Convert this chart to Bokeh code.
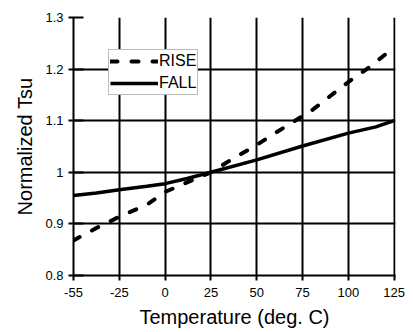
import numpy as np
from bokeh.plotting import figure
from bokeh.models import FixedTicker, Range1d, Legend, LegendItem
from bokeh.embed import file_html
from bokeh.resources import INLINE

# Axis ticks (the -55 tick sits one regular step left of -25)
tick_temps = [-55, -25, 0, 25, 50, 75, 100, 125]
tick_labels = ["-55", "-25", "0", "25", "50", "75", "100", "125"]
tick_pos = [-50, -25, 0, 25, 50, 75, 100, 125]
y_ticks = [0.8, 0.9, 1.0, 1.1, 1.2, 1.3]
y_tick_labels = ["0.8", "0.9", "1", "1.1", "1.2", "1.3"]

# Series
rise_temp = [-55, -40, -25, -10, 0, 15, 25, 35, 50, 60, 70, 80, 100, 110, 125]
rise_val = [0.868, 0.892, 0.914, 0.937, 0.962, 0.985, 1.0, 1.022, 1.053,
            1.076, 1.098, 1.12, 1.175, 1.2, 1.242]
fall_temp = [-55, -40, -25, -10, 0, 12, 25, 50, 75, 100, 115, 125]
fall_val = [0.955, 0.960, 0.966, 0.973, 0.978, 0.988, 1.0, 1.024, 1.051,
            1.076, 1.088, 1.1]

FONT = "Liberation Sans"


def to_pos(t):
    return np.interp(t, tick_temps, tick_pos)


p = figure(width=410, height=332, output_backend="svg", toolbar_location=None,
           x_range=Range1d(-50, 125.7), y_range=Range1d(0.8, 1.3),
           min_border_left=73, min_border_right=15, min_border_top=17,
           min_border_bottom=57)
p.outline_line_color = None
p.background_fill_color = "white"
p.border_fill_color = "white"

# Grid
p.xgrid.ticker = FixedTicker(ticks=tick_pos[1:])
p.ygrid.ticker = FixedTicker(ticks=y_ticks[1:-1])
for g in (p.xgrid, p.ygrid):
    g.grid_line_color = "black"
    g.grid_line_width = 2

# Axes
p.xaxis.ticker = FixedTicker(ticks=tick_pos)
p.xaxis.major_label_overrides = {tp: lab for tp, lab in zip(tick_pos, tick_labels)}
p.yaxis.ticker = FixedTicker(ticks=y_ticks)
p.yaxis.major_label_overrides = {tv: lab for tv, lab in zip(y_ticks, y_tick_labels)}
for ax in (p.xaxis, p.yaxis):
    ax.axis_line_color = "black"
    ax.axis_line_width = 2
    ax.major_tick_line_color = "black"
    ax.major_tick_line_width = 2
    ax.major_tick_out = 5
    ax.minor_tick_line_color = None
    ax.major_label_text_font = FONT
    ax.major_label_text_font_size = "13px"
    ax.major_label_text_color = "black"
    ax.axis_label_text_font = FONT
    ax.axis_label_text_font_size = "20px"
    ax.axis_label_text_font_style = "normal"
    ax.axis_label_text_color = "black"
p.xaxis.major_tick_in = 0
p.yaxis.major_tick_in = 10
p.xaxis.major_label_standoff = 7
p.yaxis.major_label_standoff = 5
p.xaxis.axis_label = "Temperature (deg. C)"
p.yaxis.axis_label = "Normalized Tsu"
p.xaxis.axis_label_standoff = 6
p.yaxis.axis_label_standoff = 6

# Data
r_rise = p.line(to_pos(rise_temp), rise_val, line_color="black", line_width=4,
                line_dash="7 14", line_cap="round")
r_fall = p.line(to_pos(fall_temp), fall_val, line_color="black", line_width=3.5)

legend = Legend(items=[LegendItem(label="RISE", renderers=[r_rise]),
                       LegendItem(label="FALL", renderers=[r_fall])],
                location=(35, 180), margin=0, padding=1, spacing=2,
                glyph_width=48, glyph_height=20, label_height=20,
                label_standoff=1, label_text_font=FONT,
                label_text_font_size="16px", label_text_color="black",
                border_line_color="#777777", border_line_width=1.5,
                background_fill_color="white", background_fill_alpha=1.0)
p.add_layout(legend, "center")

open("out.html", "w").write(file_html(p, INLINE))
